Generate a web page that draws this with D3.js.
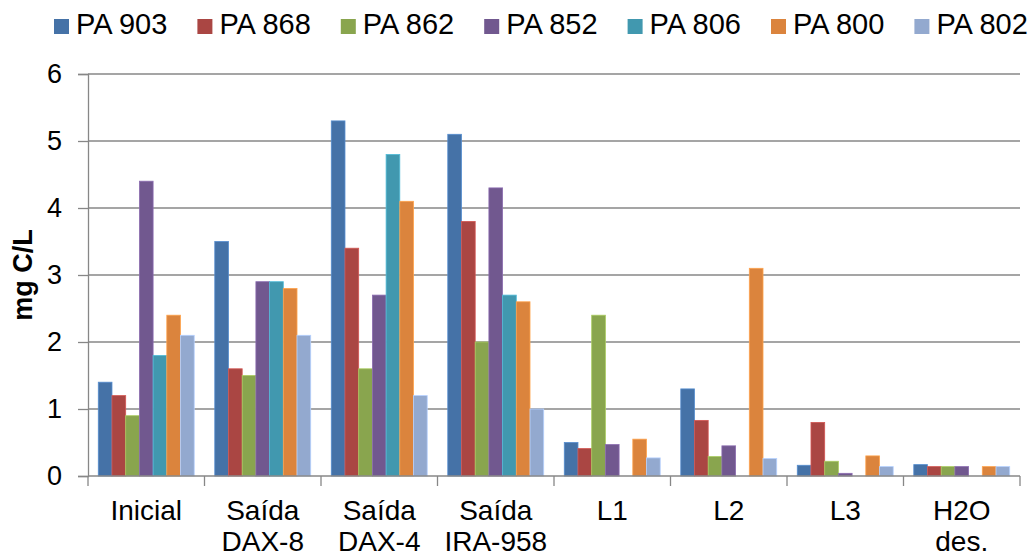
<!DOCTYPE html>
<html>
<head>
<meta charset="utf-8">
<script src="https://cdn.jsdelivr.net/npm/d3@7/dist/d3.min.js"></script>
<style>
  html, body { margin: 0; padding: 0; background: #fff; }
  svg { display: block; font-family: "Liberation Sans", Arial, sans-serif; }
</style>
</head>
<body>
<svg id="chart" width="1035" height="556"></svg>
<script>
// Dissolved organic carbon per fraction (mg C/L)
const categories = [
  ["Inicial"],
  ["Saída", "DAX-8"],
  ["Saída", "DAX-4"],
  ["Saída", "IRA-958"],
  ["L1"],
  ["L2"],
  ["L3"],
  ["H2O", "des."]
];
const seriesNames = ["PA 903", "PA 868", "PA 862", "PA 852", "PA 806", "PA 800", "PA 802"];
const seriesColors = ["#4572A7", "#AA4643", "#89A54E", "#71588F", "#4198AF", "#DB843D", "#93A9CF"];

const pa903 = [1.4, 3.5, 5.3, 5.1, 0.5, 1.3, 0.16, 0.17];
const pa868 = [1.2, 1.6, 3.4, 3.8, 0.41, 0.83, 0.8, 0.14];
const pa862 = [0.9, 1.5, 1.6, 2.0, 2.4, 0.29, 0.22, 0.14];
const pa852 = [4.4, 2.9, 2.7, 4.3, 0.47, 0.45, 0.04, 0.14];
const pa806 = [1.8, 2.9, 4.8, 2.7, null, null, null, null];
const pa800 = [2.4, 2.8, 4.1, 2.6, 0.55, 3.1, 0.3, 0.14];
const pa802 = [2.1, 2.1, 1.2, 1.0, 0.27, 0.26, 0.14, 0.14];

const yTicks = [0, 1, 2, 3, 4, 5, 6];
const yTitle = "mg C/L";

const series = [pa903, pa868, pa862, pa852, pa806, pa800, pa802];

const svg = d3.select("#chart");
const margin = { left: 88, right: 15, top: 74, bottom: 80 };
const W = 1035, H = 556;
const plotW = W - margin.left - margin.right;
const plotH = H - margin.top - margin.bottom;

const g = svg.append("g").attr("transform", `translate(${margin.left},${margin.top})`);

const catKeys = categories.map(c => c.join(" "));
const x0 = d3.scaleBand().domain(catKeys).range([0, plotW]).padding(0);
const x1 = d3.scaleBand().domain(seriesNames).range([0, x0.bandwidth()])
  .paddingInner(0).paddingOuter(0.75);
const y = d3.scaleLinear().domain([0, 6]).range([plotH, 0]);

const axisColor = "#878787";

// horizontal gridlines
g.append("g").selectAll("line").data(yTicks.filter(t => t > 0)).join("line")
  .attr("x1", 0).attr("x2", plotW)
  .attr("y1", d => y(d)).attr("y2", d => y(d))
  .attr("stroke", axisColor).attr("stroke-width", 1.3);

// bars
const groups = g.append("g").selectAll("g").data(catKeys).join("g")
  .attr("transform", d => `translate(${x0(d)},0)`);
groups.selectAll("rect")
  .data((d, i) => series.map((s, j) => ({ name: seriesNames[j], color: seriesColors[j], v: s[i] }))
    .filter(e => e.v !== null))
  .join("rect")
  .attr("x", d => x1(d.name))
  .attr("width", x1.bandwidth())
  .attr("y", d => y(d.v))
  .attr("height", d => y(0) - y(d.v))
  .attr("fill", d => d.color)
  .attr("stroke", d => d3.color(d.color).brighter(0.6))
  .attr("stroke-width", 0.8);

// y axis
const yAxis = d3.axisLeft(y).tickValues(yTicks).tickSize(10).tickPadding(16).tickFormat(d3.format("d"));
const ya = g.append("g").call(yAxis);
ya.select(".domain").attr("stroke", axisColor).attr("stroke-width", 1.3);
ya.selectAll(".tick line").attr("stroke", axisColor).attr("stroke-width", 1.3);
ya.selectAll(".tick text").attr("font-size", 27).attr("fill", "#000")
  .attr("font-family", "'Liberation Sans', Arial, sans-serif");

// x axis with ticks on category boundaries
const xa = g.append("g").attr("transform", `translate(0,${plotH})`);
xa.append("line").attr("x1", 0).attr("x2", plotW).attr("y1", 0).attr("y2", 0)
  .attr("stroke", axisColor).attr("stroke-width", 1.3);
const bounds = catKeys.map(k => x0(k)).concat([plotW]);
xa.selectAll("line.tk").data(bounds).join("line").attr("class", "tk")
  .attr("x1", d => d).attr("x2", d => d).attr("y1", 0).attr("y2", 10)
  .attr("stroke", axisColor).attr("stroke-width", 1.3);

const labels = xa.selectAll("text").data(categories).join("text")
  .attr("x", (d, i) => x0(catKeys[i]) + x0.bandwidth() / 2)
  .attr("y", 44)
  .attr("text-anchor", "middle")
  .attr("font-size", 28)
  .attr("fill", "#000");
labels.selectAll("tspan").data(d => d).join("tspan")
  .attr("x", function () { return d3.select(this.parentNode).attr("x"); })
  .attr("dy", (d, i) => i === 0 ? 0 : 31)
  .text(d => d);

// y axis title
svg.append("text")
  .attr("transform", `translate(32,${margin.top + plotH / 2}) rotate(-90)`)
  .attr("text-anchor", "middle")
  .attr("font-size", 27).attr("font-weight", "bold").attr("fill", "#000")
  .text(yTitle);

// legend
const legend = svg.append("g");
const legendStep = 143.4, legendX = 54;
const items = legend.selectAll("g").data(seriesNames).join("g")
  .attr("transform", (d, i) => `translate(${legendX + i * legendStep},0)`);
items.append("rect").attr("x", 0).attr("y", 19).attr("width", 15).attr("height", 15)
  .attr("fill", (d, i) => seriesColors[i]);
items.append("text").attr("x", 22).attr("y", 34).attr("font-size", 29).attr("fill", "#000")
  .text(d => d);
</script>
</body>
</html>
